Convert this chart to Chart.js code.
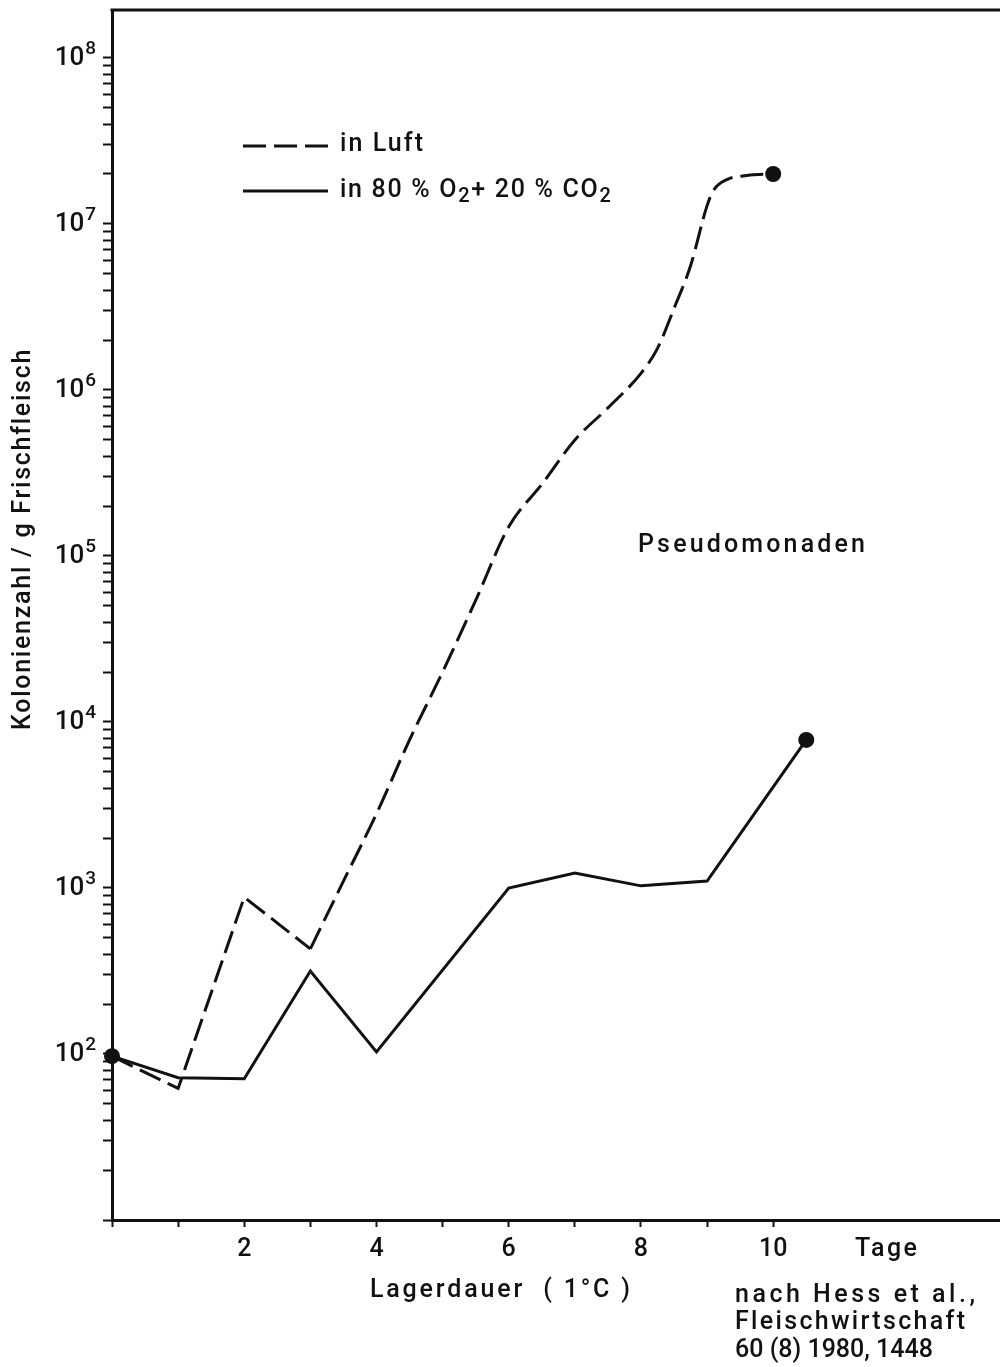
<!DOCTYPE html>
<html>
<head>
<meta charset="utf-8">
<script src="https://cdn.jsdelivr.net/npm/chart.js@4.4.1/dist/chart.umd.min.js"></script>
<style>
    html, body { margin: 0; padding: 0; background: #fff; overflow: hidden; }
    #chart { display: block; }
</style>
</head>
<body>
<canvas id="chart" width="1000" height="1367"></canvas>
<script>
// --- Data ---
// in Luft (dashed)
const luftDays = [0, 1, 2, 3, 3.5, 4, 4.5, 5, 5.5, 6, 6.5, 7, 7.5, 8, 8.25, 8.5, 8.75, 9, 9.1, 9.3, 9.6, 10];
const luftCounts = [97, 62, 880, 430, 1100, 2800, 7800, 20000, 54000, 150000, 270000, 500000, 780000,
    1260000, 1780000, 3100000, 5600000, 12900000, 16000000, 18500000, 19600000, 20000000];
// in 80 % O2 + 20 % CO2 (solid)
const gasDays = [0, 1, 2, 3, 4, 6, 7, 8, 9, 10.5];
const gasCounts = [97, 72, 71, 316, 103, 1000, 1230, 1030, 1100, 7800];

const xTickDays = [0, 1, 2, 3, 4, 5, 6, 7, 8, 9, 10];
const xTickLabels = ['', '', '2', '', '4', '', '6', '', '8', '', '10'];
const yTickValues = [1e2, 1e3, 1e4, 1e5, 1e6, 1e7, 1e8];
const yTickExps = ['2', '3', '4', '5', '6', '7', '8'];
// -------------------------------

const FONT = 'Roboto, "Liberation Sans", "DejaVu Sans", sans-serif';
const WEIGHT = '500';
const INK = '#111';

const toXY = (days, counts) => days.map((d, i) => ({ x: d, y: counts[i] }));
const luftPts = toXY(luftDays, luftCounts);
const gasPts = toXY(gasDays, gasCounts);
const endDot = (n) => (c) => (c.dataIndex === n - 1 ? 8 : 0);

function setFont(ctx, size) {
    ctx.font = `${WEIGHT} ${size}px ${FONT}`;
}

// draws text pieces of different size / vertical offset; spacing = extra px between letters
function richText(ctx, parts, x, y, spacing) {
    ctx.letterSpacing = (spacing || 0) + 'px';
    let cx = x;
    parts.forEach(p => {
        setFont(ctx, p.size);
        ctx.fillText(p.text, cx, y + (p.dy || 0));
        cx += ctx.measureText(p.text).width;
    });
    ctx.letterSpacing = '0px';
}

function spacedText(ctx, str, x, y, size, width) {
    setFont(ctx, size);
    ctx.letterSpacing = '0px';
    const n = [...str].length;
    if (width && n > 1) {
        const w = ctx.measureText(str).width;
        ctx.letterSpacing = Math.max(0, (width - w) / (n - 1)) + 'px';
    }
    ctx.fillText(str, x, y);
    ctx.letterSpacing = '0px';
}

const annotations = {
    id: 'annotations',
    afterDraw(chart) {
        const { ctx, chartArea } = chart;
        const yScale = chart.scales.y;
        ctx.save();
        // top frame line, running off the right edge like the original
        ctx.strokeStyle = INK;
        ctx.lineWidth = 3;
        ctx.beginPath();
        ctx.moveTo(chartArea.left - 1.5, chartArea.top);
        ctx.lineTo(chart.width, chartArea.top);
        ctx.stroke();

        ctx.fillStyle = INK;
        ctx.textBaseline = 'middle';
        ctx.textAlign = 'left';

        // y tick labels 10^n
        yTickValues.forEach((v, i) => {
            const py = yScale.getPixelForValue(v);
            setFont(ctx, 19);
            const we = ctx.measureText(yTickExps[i]).width;
            setFont(ctx, 26);
            const wb = ctx.measureText('10').width;
            const right = 96;
            ctx.fillText('10', right - we - wb - 1, py + 1);
            setFont(ctx, 19);
            ctx.fillText(yTickExps[i], right - we, py - 9);
        });

        // legend
        ctx.lineWidth = 3;
        ctx.setLineDash([23, 8]);
        ctx.beginPath(); ctx.moveTo(243, 146); ctx.lineTo(328, 146); ctx.stroke();
        ctx.setLineDash([]);
        ctx.beginPath(); ctx.moveTo(243, 191); ctx.lineTo(328, 191); ctx.stroke();

        spacedText(ctx, 'in Luft', 340, 145, 25, 83);
        richText(ctx, [
            { text: 'in 80 % O', size: 25 },
            { text: '2', size: 20, dy: 6 },
            { text: '+ 20 % CO', size: 25 },
            { text: '2', size: 20, dy: 6 }
        ], 340, 191, 1.7);

        spacedText(ctx, 'Pseudomonaden', 638, 546, 25, 227);
        spacedText(ctx, 'Tage', 855, 1250, 25, 62);
        spacedText(ctx, 'Lagerdauer  ( 1°C )', 370, 1291, 25, 260);
        spacedText(ctx, 'nach Hess et al.,', 735, 1296, 25, 240);
        spacedText(ctx, 'Fleischwirtschaft', 735, 1323, 25, 230);
        spacedText(ctx, '60 (8) 1980, 1448', 735, 1351, 25, 197);

        // y axis title
        ctx.translate(24, 540);
        ctx.rotate(-Math.PI / 2);
        spacedText(ctx, 'Kolonienzahl / g Frischfleisch', -190, 0, 25, 380);
        ctx.restore();
    }
};

new Chart(document.getElementById('chart'), {
    type: 'line',
    data: {
        datasets: [
            {
                label: 'in Luft',
                data: luftPts.slice(0, 4),
                borderColor: INK,
                borderWidth: 3,
                borderDash: [23, 8],
                tension: 0,
                pointRadius: 0,
                clip: false
            },
            {
                label: 'in Luft',
                data: luftPts.slice(3),
                borderColor: INK,
                backgroundColor: INK,
                borderWidth: 3,
                borderDash: [23, 8],
                cubicInterpolationMode: 'monotone',
                pointRadius: endDot(luftPts.length - 3),
                pointBackgroundColor: INK,
                pointBorderWidth: 0,
                clip: false
            },
            {
                label: 'in 80 % O2 + 20 % CO2',
                data: gasPts,
                borderColor: INK,
                backgroundColor: INK,
                borderWidth: 3,
                tension: 0,
                pointRadius: (c) => (c.dataIndex === 0 || c.dataIndex === gasPts.length - 1 ? 8 : 0),
                pointBackgroundColor: INK,
                pointBorderWidth: 0,
                clip: false
            }
        ]
    },
    options: {
        responsive: false,
        animation: false,
        devicePixelRatio: 1,
        layout: { autoPadding: false, padding: { top: 10, right: 0, bottom: 0, left: 0 } },
        plugins: {
            legend: { display: false },
            tooltip: { enabled: false }
        },
        scales: {
            x: {
                type: 'linear',
                min: 0,
                max: 13.43,
                afterBuildTicks: (s) => { s.ticks = xTickDays.map(v => ({ value: v })); },
                afterFit: (s) => { s.height = 147; s.paddingLeft = 0; s.paddingRight = 0; },
                ticks: {
                    autoSkip: false,
                    maxRotation: 0,
                    padding: 8,
                    color: INK,
                    font: { family: FONT, size: 25, weight: WEIGHT },
                    callback: (v, i) => xTickLabels[i]
                },
                grid: { drawOnChartArea: false, drawTicks: true, tickLength: 7, tickWidth: 2, tickColor: INK },
                border: { display: true, width: 3, color: INK }
            },
            y: {
                type: 'logarithmic',
                min: 10,
                max: 1.945e8,
                afterBuildTicks: (s) => {
                    const t = [];
                    for (let e = 1; e < 8; e++) {
                        for (let m = 1; m < 10; m++) t.push({ value: m * Math.pow(10, e) });
                    }
                    t.push({ value: 1e8 });
                    s.ticks = t;
                },
                afterFit: (s) => { s.width = 112; s.paddingTop = 0; s.paddingBottom = 0; },
                ticks: { display: false, autoSkip: false },
                grid: { drawOnChartArea: false, drawTicks: true, tickLength: 9, tickWidth: 2, tickColor: INK },
                border: { display: true, width: 3, color: INK }
            }
        }
    },
    plugins: [annotations]
});
</script>
</body>
</html>
